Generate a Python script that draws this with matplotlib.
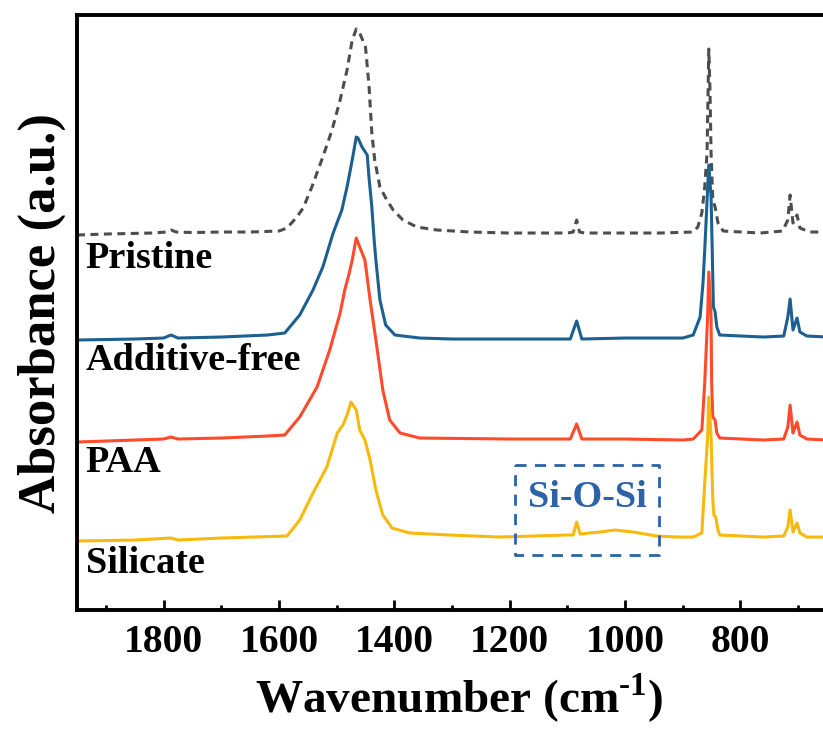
import matplotlib.pyplot as plt
import numpy as np

# FTIR spectra, absorbance in a.u. (baseline ~0), stacked with offsets
wn_pristine = [1950, 1900, 1820, 1795, 1787, 1778, 1750, 1700, 1650, 1600, 1586, 1569, 1558,
               1543, 1524, 1508, 1494, 1482, 1473, 1466, 1460, 1450, 1444, 1439, 1434, 1425,
               1413, 1402, 1385, 1361, 1326, 1269, 1200, 1100, 1090, 1084, 1079, 1070, 1000,
               940, 882, 874, 867, 862, 858, 856, 855, 853, 851, 848, 844, 839, 830, 766, 727,
               718, 714, 709, 702, 697, 680, 650]
abs_pristine = [0.00, 0.01, 0.02, 0.03, 0.05, 0.03, 0.025, 0.03, 0.03, 0.04, 0.07, 0.18, 0.27,
                0.48, 0.78, 1.05, 1.35, 1.65, 1.95, 2.06, 2.02, 1.88, 1.50, 1.02, 0.75, 0.48,
                0.35, 0.25, 0.15, 0.08, 0.05, 0.03, 0.02, 0.02, 0.03, 0.15, 0.03, 0.02, 0.02,
                0.02, 0.03, 0.08, 0.22, 0.48, 0.82, 1.48, 1.86, 1.48, 0.82, 0.35, 0.28, 0.12,
                0.04, 0.02, 0.04, 0.15, 0.40, 0.12, 0.20, 0.07, 0.03, 0.03]

wn_free = [1950, 1850, 1800, 1787, 1775, 1700, 1620, 1590, 1564, 1541, 1524, 1506, 1491, 1482,
           1473, 1466, 1463, 1456, 1447, 1444, 1439, 1435, 1432, 1425, 1415, 1399, 1356, 1300,
           1200, 1095, 1084, 1075, 1000, 900, 882, 870, 865, 862, 855, 851, 849, 847, 844, 841,
           836, 760, 725, 718, 714, 709, 702, 697, 685, 650]
abs_free = [0.00, 0.01, 0.02, 0.05, 0.02, 0.03, 0.05, 0.07, 0.25, 0.50, 0.73, 1.07, 1.30, 1.53,
            1.80, 2.03, 2.02, 1.93, 1.85, 1.63, 1.33, 1.00, 0.80, 0.40, 0.15, 0.05, 0.02, 0.01,
            0.01, 0.01, 0.19, 0.01, 0.02, 0.02, 0.05, 0.23, 0.57, 0.90, 1.75, 1.43, 0.90, 0.33,
            0.28, 0.13, 0.05, 0.03, 0.04, 0.23, 0.41, 0.10, 0.22, 0.08, 0.04, 0.03]

wn_paa = [1950, 1850, 1800, 1787, 1775, 1700, 1620, 1590, 1564, 1534, 1512, 1494, 1486, 1479,
          1473, 1466, 1460, 1451, 1442, 1432, 1420, 1408, 1390, 1356, 1200, 1095, 1084, 1075,
          1000, 900, 882, 867, 862, 857, 855, 851, 850, 848, 844, 841, 836, 760, 725, 718, 714,
          709, 702, 697, 685, 650]
abs_paa = [0.00, 0.02, 0.03, 0.05, 0.03, 0.04, 0.06, 0.07, 0.25, 0.55, 0.92, 1.29, 1.52, 1.67,
           1.82, 2.04, 1.95, 1.82, 1.42, 1.02, 0.52, 0.22, 0.09, 0.04, 0.03, 0.03, 0.18, 0.03,
           0.03, 0.02, 0.03, 0.12, 0.59, 1.25, 1.70, 1.25, 0.59, 0.25, 0.22, 0.09, 0.04, 0.02,
           0.03, 0.15, 0.37, 0.09, 0.20, 0.07, 0.03, 0.02]

wn_silicate = [1950, 1850, 1787, 1775, 1700, 1586, 1564, 1541, 1517, 1499, 1489, 1482, 1475,
               1466, 1460, 1451, 1442, 1432, 1420, 1404, 1373, 1304, 1217, 1101, 1090, 1084,
               1078, 1044, 1018, 986, 945, 910, 882, 867, 862, 857, 855, 851, 848, 846, 843,
               839, 836, 760, 725, 718, 714, 709, 702, 697, 685, 650]
abs_silicate = [0.00, 0.01, 0.03, 0.01, 0.03, 0.05, 0.21, 0.48, 0.74, 1.08, 1.16, 1.26, 1.39,
                1.31, 1.11, 1.01, 0.81, 0.51, 0.26, 0.13, 0.08, 0.06, 0.04, 0.06, 0.06, 0.19,
                0.07, 0.09, 0.11, 0.09, 0.05, 0.04, 0.04, 0.08, 0.58, 1.04, 1.44, 1.04, 0.41,
                0.26, 0.24, 0.11, 0.06, 0.04, 0.05, 0.14, 0.31, 0.09, 0.18, 0.08, 0.04, 0.04]

names = ["Pristine", "Additive-free", "PAA", "Silicate"]
offsets = [3.75, 2.70, 1.68, 0.69]
colors = ["#4d4d4d", "#1b6090", "#ff4b2b", "#f7b90c"]
styles = [(0, (2.6, 1.8)), "-", "-", "-"]
label_y = [3.52, 2.50, 1.48, 0.47]

spectra = [(wn_pristine, abs_pristine), (wn_free, abs_free),
           (wn_paa, abs_paa), (wn_silicate, abs_silicate)]

plt.rcParams['font.family'] = 'Liberation Serif'
plt.rcParams['font.weight'] = 'bold'
plt.rcParams['mathtext.fontset'] = 'custom'
plt.rcParams['mathtext.rm'] = 'Liberation Serif:bold'
plt.rcParams['mathtext.bf'] = 'Liberation Serif:bold'

fig = plt.figure(figsize=(8.23, 7.29), dpi=100)
ax = fig.add_axes([0.0936, 0.1632, 0.9113, 0.8162])

for (wn, a), off, c, ls, name, ly in zip(spectra, offsets, colors, styles, names, label_y):
    ax.plot(wn, np.array(a) + off, color=c, lw=2.2, ls=ls, solid_joinstyle='round')
    ax.text(1935, ly, name, fontsize=27.5, fontweight='bold', ha='left', va='center')

# Si-O-Si band marker
box_blue = "#2c62a8"
ax.plot([1191, 941, 941, 1191, 1191], [1.45, 1.45, 0.55, 0.55, 1.45],
        color=box_blue, lw=2, ls=(0, (4, 3)))
ax.text(1066, 1.13, "Si-O-Si", color=box_blue, fontsize=27.5, fontweight='bold',
        ha='center', va='center')

ax.set_xlim(1950, 650)
ax.set_ylim(0, 5.95)
ax.set_xticks([1800, 1600, 1400, 1200, 1000, 800])
ax.set_xticks(np.arange(1900, 650, -100), minor=True)
ax.set_yticks([])
ax.tick_params(axis='x', which='major', direction='in', length=7, width=2,
               labelsize=28.5, pad=10)
ax.tick_params(axis='x', which='minor', direction='in', length=3.5, width=2)
for lab in ax.get_xticklabels():
    lab.set_fontweight('bold')
for s in ax.spines.values():
    s.set_linewidth(2.8)

ax.set_xlabel("Wavenumber (cm$^{\\text{-1}}$)", fontsize=34, fontweight='bold')
ax.xaxis.label.set_va('baseline')
ax.xaxis.set_label_coords(0.51, -0.172)
ax.set_ylabel("Absorbance (a.u.)", fontsize=38, fontweight='bold', labelpad=8)

fig.savefig("out.png", dpi=100)
